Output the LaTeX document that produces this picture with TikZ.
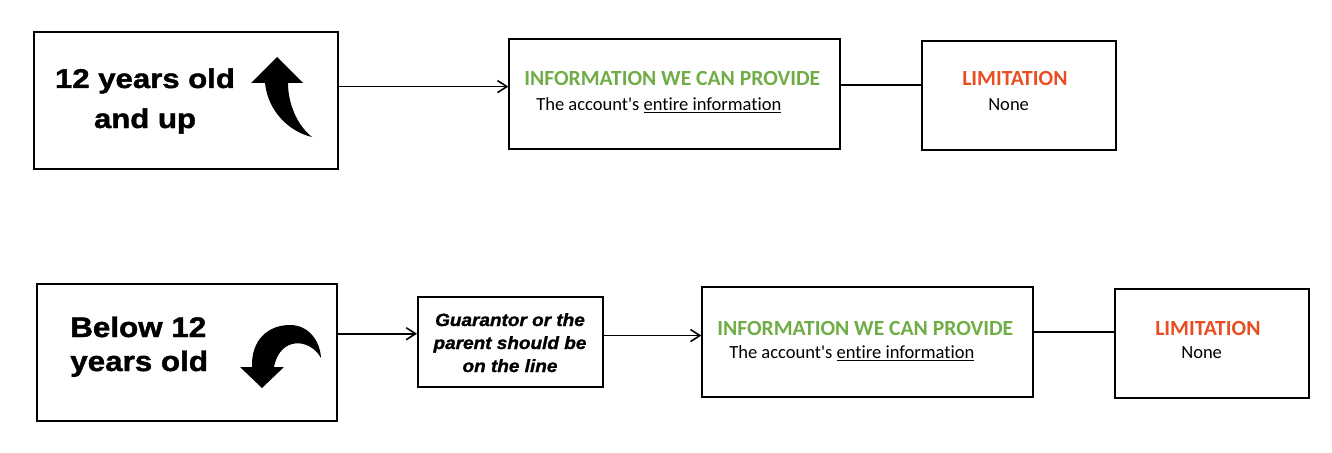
\documentclass[tikz,border=0pt]{standalone}
\usepackage{fontspec}
\setmainfont{Liberation Sans}
\newfontfamily\calfont{Carlito}[Ligatures={NoCommon,NoRare,NoContextual}]
\newfontfamily\bigtopfont{Liberation Sans Bold}[FakeStretch=1.15,FakeBold=1.5]
\newfontfamily\bigbotfont{Liberation Sans Bold}[FakeStretch=1.11,FakeBold=1.5]
\newfontfamily\guarfont{Liberation Sans Bold Italic}[FakeStretch=1.07,FakeBold=1.3]
\usetikzlibrary{arrows.meta,calc,fit}
\definecolor{infogreen}{RGB}{112,173,71}
\definecolor{limred}{RGB}{235,77,35}
\tikzset{
  heavybox/.style={draw=black, line width=1.5pt, inner sep=0pt},
  thinbox/.style={draw=black, line width=1pt, inner sep=0pt},
  conn/.style={line width=1.3pt, -{Straight Barb[length=7pt,width=9pt,line width=1.2pt]}},
  plainconn/.style={line width=1.3pt},
  greenhead/.style={anchor=base west, inner sep=0pt, font=\calfont\bfseries\fontsize{16.2pt}{18pt}\selectfont, text=infogreen},
  redhead/.style={anchor=base west, inner sep=0pt, font=\calfont\bfseries\fontsize{16.2pt}{18pt}\selectfont, text=limred},
  bodytext/.style={anchor=base west, inner sep=0pt, font=\calfont\fontsize{13.9pt}{16pt}\selectfont},
  bigtop/.style={anchor=base, inner sep=0pt, font=\bigtopfont\fontsize{20.3pt}{24pt}\selectfont},
  bigbot/.style={anchor=base west, inner sep=0pt, font=\bigbotfont\fontsize{21.2pt}{24pt}\selectfont},
  guartext/.style={anchor=base, inner sep=0pt, font=\guarfont\fontsize{13.3pt}{16pt}\selectfont},
}
\begin{document}
\begin{tikzpicture}[x=0.75pt,y=-0.75pt]
\useasboundingbox[fill=white] (0,0) rectangle (1332,453);

% ---------- top row ----------
\node[heavybox, fit={(34,32) (338,169)}] (A) {};
\node[bigtop] (a1) at (145,88) {12 years old};
\node[bigtop] (a2) at (145,128) {and up};
\fill (277,57) -- (303,83) -- (288,83)
  .. controls (288,105) and (298,126) .. (312,137)
  .. controls (290,132) and (268,112) .. (265,83)
  -- (251,83) -- cycle;

\node[thinbox, fit={(509,39) (840,149)}] (B) {};
\node[greenhead] (b1) at (524,86) {INFORMATION WE CAN PROVIDE};
\node[bodytext] (b2) at (536,110) {The account's \underline{entire information}};

\node[thinbox, fit={(922,41) (1116,150)}] (C) {};
\node[redhead] (c1) at (962,86) {LIMITATION};
\node[bodytext] (c2) at (988,110) {None};

\draw[conn] ($(A.north east)!0.40!(A.south east)$) coordinate (pa) -- (pa -| B.west);
\draw[plainconn] ($(B.north east)!0.42!(B.south east)$) coordinate (pb) -- (pb -| C.west);

% ---------- bottom row ----------
\node[heavybox, fit={(37,284) (337,421)}] (D) {};
\node[bigbot] (d1) at (70,337) {Below 12};
\node[bigbot] (d2) at (70,371) {years old};
\fill (262,388) -- (240,367) -- (252,367)
  .. controls (251,340) and (268,325) .. (290,325)
  .. controls (308,325) and (320,340) .. (321,358)
  .. controls (310,338) and (280,336) .. (274,367)
  -- (284,367) -- cycle;

\node[heavybox, fit={(418,297) (603,387)}] (E) {};
\node[guartext] (e1) at (510,326) {Guarantor or the};
\node[guartext] (e2) at (510,349) {parent should be};
\node[guartext] (e3) at (510,372) {on the line};

\node[thinbox, fit={(702,287) (1033,397)}] (F) {};
\node[greenhead] (f1) at (717,335) {INFORMATION WE CAN PROVIDE};
\node[bodytext] (f2) at (729,358) {The account's \underline{entire information}};

\node[thinbox, fit={(1115,289) (1309,398)}] (G) {};
\node[redhead] (g1) at (1155,335) {LIMITATION};
\node[bodytext] (g2) at (1181,358) {None};

\draw[conn] ($(D.north east)!0.365!(D.south east)$) coordinate (pd) -- (pd -| E.west);
\draw[conn] ($(E.north east)!0.43!(E.south east)$) coordinate (pe) -- (pe -| F.west);
\draw[plainconn] ($(F.north east)!0.41!(F.south east)$) coordinate (pf) -- (pf -| G.west);
\end{tikzpicture}
\end{document}
